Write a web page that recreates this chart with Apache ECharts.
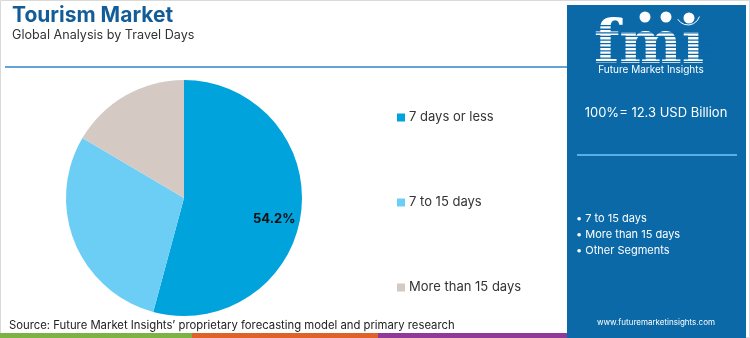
<!DOCTYPE html>
<html><head><meta charset="utf-8">
<script src="https://cdn.jsdelivr.net/npm/echarts@6/dist/echarts.min.js"></script>
<style>html,body{margin:0;padding:0;background:#fff}#c{width:750px;height:338px}</style>
</head><body><div id="c"></div>
<script>
const categories = ['7 days or less', '7 to 15 days', 'More than 15 days'];
const shares = [54.2, 29.3, 16.5];
const sliceColors = ['#00a3dc', '#6ccef4', '#d5c9c3'];
const labelText = ['54.2%', '', ''];
const title = 'Tourism Market';
const subtitle = 'Global Analysis by Travel Days';
const totalText = '100%= 12.3 USD Billion';
const panelBullets = ['• 7 to 15 days', '• More than 15 days', '• Other Segments'];
const sourceText = 'Source: Future Market Insights\u2019 proprietary forecasting model and primary research';
const website = 'www.futuremarketinsights.com';

const FONT = 'Inter, "Noto Sans", sans-serif';
const chart = echarts.init(document.getElementById('c'), null, {renderer: 'canvas'});
const pieData = categories.map((n, i) => ({name: n, value: shares[i], itemStyle: {color: sliceColors[i]}}));
const labelData = categories.map((n, i) => ({name: n, value: shares[i], label: {show: !!labelText[i], formatter: labelText[i]}}));

const panelColor = '#0b69a8';
const graphics = [
  {type: 'rect', shape: {x: 0.5, y: 0.5, width: 749, height: 337}, style: {fill: 'none', stroke: '#d9d9d9', lineWidth: 1}, z: 0},
  {type: 'line', shape: {x1: 5, y1: 67, x2: 567, y2: 67}, style: {stroke: '#2f86c6', lineWidth: 1.5}},
  {type: 'text', left: 12, top: 5, style: {text: title, font: 'bold 21px ' + FONT, fill: '#145c98'}},
  {type: 'text', left: 12, top: 29, style: {text: subtitle, font: '12.6px ' + FONT, fill: '#333'}},
  {type: 'text', left: 9, top: 320, style: {text: sourceText, font: '11.3px ' + FONT, fill: '#222'}},
  {type: 'rect', shape: {x: 0, y: 333, width: 192, height: 5}, style: {fill: '#7cb342'}},
  {type: 'rect', shape: {x: 192, y: 333, width: 186, height: 5}, style: {fill: '#e0622a'}},
  {type: 'rect', shape: {x: 378, y: 333, width: 190, height: 5}, style: {fill: '#8e3a96'}},
  {type: 'rect', shape: {x: 567, y: 5, width: 179, height: 333}, style: {fill: panelColor}},
  // logo
  {type: 'text', x: 649, y: 48, style: {text: 'fmı', font: 'bold 59px "DejaVu Serif", serif', fill: '#fff', textAlign: 'center', textVerticalAlign: 'middle'}},
  {type: 'group', children: [0,1,2,3,4,5,6,7,8,9,10].map(k => ({type: 'rect', shape: {x: 588, y: 25 + k * 3.6, width: 125, height: 1.3}, style: {fill: panelColor}}))},
  {type: 'circle', shape: {cx: 645, cy: 17, r: 5.5}, style: {fill: '#fff'}},
  {type: 'circle', shape: {cx: 666, cy: 17, r: 5.5}, style: {fill: '#fff'}},
  {type: 'circle', shape: {cx: 689, cy: 18, r: 5.5}, style: {fill: '#fff'}},
  {type: 'arc', shape: {cx: 688, cy: 13, r: 12, startAngle: 0.3, endAngle: 2.6}, style: {stroke: '#fff', lineWidth: 1, fill: 'none'}},
  {type: 'text', x: 651, y: 70, style: {text: 'Future Market Insights', font: '10px ' + FONT, fill: '#fff', textAlign: 'center', textVerticalAlign: 'middle'}},
  {type: 'text', x: 656, y: 113, style: {text: totalText, font: '13px ' + FONT, fill: '#fff', textAlign: 'center', textVerticalAlign: 'middle'}},
  {type: 'line', shape: {x1: 577, y1: 155, x2: 737, y2: 155}, style: {stroke: '#5aaee6', lineWidth: 2}},
  {type: 'text', x: 576, y: 219, style: {text: panelBullets[0], font: '11px ' + FONT, fill: '#fff', textVerticalAlign: 'middle'}},
  {type: 'text', x: 576, y: 235, style: {text: panelBullets[1], font: '11px ' + FONT, fill: '#fff', textVerticalAlign: 'middle'}},
  {type: 'text', x: 576, y: 251, style: {text: panelBullets[2], font: '11px ' + FONT, fill: '#fff', textVerticalAlign: 'middle'}},
  {type: 'text', x: 656, y: 323, style: {text: website, font: '8px ' + FONT, fill: '#fff', textAlign: 'center', textVerticalAlign: 'middle'}}
];

chart.setOption({
  animation: false,
  legend: {
    orient: 'vertical', left: 392, top: 106, itemWidth: 8, itemHeight: 8, itemGap: 72,
    icon: 'rect', data: categories,
    textStyle: {fontFamily: FONT, fontSize: 13, color: '#333', padding: [0, 0, 0, -1]}
  },
  graphic: graphics,
  series: [
    {type: 'pie', center: [184, 198], radius: [0, 118], startAngle: 90, clockwise: true,
     data: pieData, label: {show: false}, labelLine: {show: false}, silent: true},
    {type: 'pie', center: [184, 198], radius: [64, 118], startAngle: 90, clockwise: true,
     data: labelData, itemStyle: {color: 'rgba(0,0,0,0)'}, legendHoverLink: false, silent: true,
     label: {position: 'inside', offset: [-3, 9], fontFamily: FONT, fontWeight: 'bold', fontSize: 13, color: '#111'}, labelLine: {show: false}}
  ]
});
</script></body></html>
